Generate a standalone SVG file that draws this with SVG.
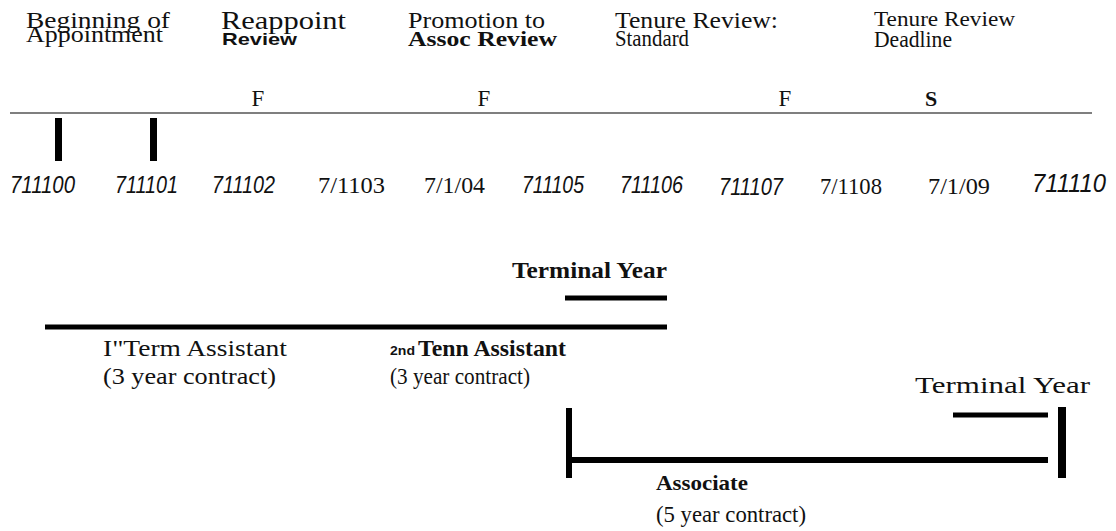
<svg xmlns="http://www.w3.org/2000/svg" width="1116" height="531" viewBox="0 0 1116 531">
<style>
.s{font-family:"Liberation Serif","Times New Roman",serif;fill:#111}
.sb{font-family:"Liberation Serif","Times New Roman",serif;font-weight:bold;fill:#111}
.a{font-family:"Liberation Sans",Arial,sans-serif;fill:#111}
.ab{font-family:"Liberation Sans",Arial,sans-serif;font-weight:bold;fill:#111}
.ai{font-family:"Liberation Sans",Arial,sans-serif;font-style:italic;fill:#111}
.bar{stroke:#000;fill:none}
</style>
<rect width="1116" height="531" fill="#fff"/>
<g id="header-labels">
<text class="s" x="26" y="28" font-size="24" textLength="144" lengthAdjust="spacingAndGlyphs">Beginning of</text>
<text class="s" x="26" y="42" font-size="24" textLength="137" lengthAdjust="spacingAndGlyphs">Appointment</text>
<text class="s" x="221" y="29" font-size="25" textLength="125" lengthAdjust="spacingAndGlyphs">Reappoint</text>
<text class="ab" x="222" y="45" font-size="17" textLength="75" lengthAdjust="spacingAndGlyphs">Review</text>
<text class="s" x="408" y="28" font-size="23" textLength="137" lengthAdjust="spacingAndGlyphs">Promotion to</text>
<text class="sb" x="408" y="46" font-size="21" textLength="149" lengthAdjust="spacingAndGlyphs">Assoc Review</text>
<text class="s" x="615" y="28" font-size="23" textLength="163" lengthAdjust="spacingAndGlyphs">Tenure Review:</text>
<text class="s" x="615" y="46" font-size="23" textLength="74" lengthAdjust="spacingAndGlyphs">Standard</text>
<text class="s" x="874" y="26" font-size="22" textLength="141" lengthAdjust="spacingAndGlyphs">Tenure Review</text>
<text class="s" x="874" y="47" font-size="23" textLength="78" lengthAdjust="spacingAndGlyphs">Deadline</text>
</g>
<g id="semester-marks">
<text class="s" x="258" y="106" font-size="23" text-anchor="middle">F</text>
<text class="s" x="484" y="106" font-size="23" text-anchor="middle">F</text>
<text class="s" x="785" y="106" font-size="23" text-anchor="middle">F</text>
<text class="sb" x="931" y="106" font-size="22" text-anchor="middle">S</text>
</g>
<g id="timeline">
<line x1="10" y1="113" x2="1092" y2="113" stroke="#555" stroke-width="1.5"/>
<rect x="55" y="118" width="7" height="43" fill="#000"/>
<rect x="150" y="118" width="7" height="43" fill="#000"/>
</g>
<g id="dates">
<text class="ai" x="10" y="193" font-size="24" textLength="65" lengthAdjust="spacingAndGlyphs">711100</text>
<text class="ai" x="115" y="193" font-size="24" textLength="63" lengthAdjust="spacingAndGlyphs">711101</text>
<text class="ai" x="212" y="193" font-size="24" textLength="63" lengthAdjust="spacingAndGlyphs">711102</text>
<text class="s" x="318" y="193" font-size="23" textLength="67" lengthAdjust="spacingAndGlyphs">7/1103</text>
<text class="s" x="424" y="193" font-size="23" textLength="61" lengthAdjust="spacingAndGlyphs">7/1/04</text>
<text class="ai" x="522" y="193" font-size="24" textLength="62" lengthAdjust="spacingAndGlyphs">711105</text>
<text class="ai" x="620" y="193" font-size="24" textLength="63" lengthAdjust="spacingAndGlyphs">711106</text>
<text class="ai" x="719" y="195" font-size="24" textLength="64" lengthAdjust="spacingAndGlyphs">711107</text>
<text class="s" x="820" y="194" font-size="23" textLength="62" lengthAdjust="spacingAndGlyphs">7/1108</text>
<text class="s" x="928" y="194" font-size="23" textLength="62" lengthAdjust="spacingAndGlyphs">7/1/09</text>
<text class="ai" x="1032" y="192" font-size="25" textLength="74" lengthAdjust="spacingAndGlyphs">711110</text>
</g>
<g id="assistant-terms">
<text class="sb" x="512" y="278" font-size="23" textLength="155" lengthAdjust="spacingAndGlyphs">Terminal  Year</text>
<line class="bar" x1="565" y1="298" x2="667" y2="298" stroke-width="5"/>
<line class="bar" x1="45" y1="327" x2="667" y2="327" stroke-width="5"/>
<text class="s" x="103" y="356" font-size="24" textLength="184" lengthAdjust="spacingAndGlyphs">I"Term Assistant</text>
<text class="s" x="103" y="384" font-size="23" textLength="173" lengthAdjust="spacingAndGlyphs">(3 year contract)</text>
<text class="ab" x="390" y="355" font-size="13" textLength="25" lengthAdjust="spacingAndGlyphs">2nd</text>
<text class="sb" x="418" y="356" font-size="24" textLength="148" lengthAdjust="spacingAndGlyphs">Tenn Assistant</text>
<text class="s" x="390" y="384" font-size="23" textLength="140" lengthAdjust="spacingAndGlyphs">(3 year contract)</text>
</g>
<g id="associate-term">
<text class="s" x="915" y="393" font-size="24" textLength="175" lengthAdjust="spacingAndGlyphs">Terminal Year</text>
<line class="bar" x1="953" y1="415" x2="1048" y2="415" stroke-width="5"/>
<rect x="1058" y="407" width="8" height="71" fill="#000"/>
<rect x="566" y="408" width="6" height="70" fill="#000"/>
<line class="bar" x1="572" y1="460" x2="1048" y2="460" stroke-width="6"/>
<text class="sb" x="656" y="490" font-size="22" textLength="92" lengthAdjust="spacingAndGlyphs">Associate</text>
<text class="s" x="656" y="522" font-size="23" textLength="150" lengthAdjust="spacingAndGlyphs">(5 year contract)</text>
</g>
</svg>
